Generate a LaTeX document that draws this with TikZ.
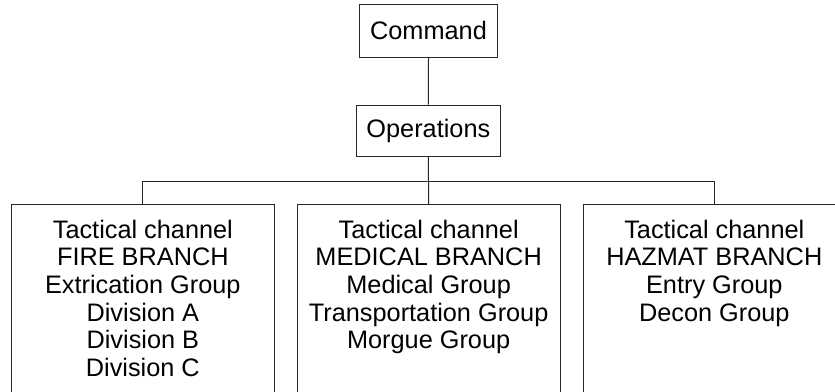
\documentclass[tikz,border=0pt]{standalone}
\usepackage{fontspec}
\setmainfont{Liberation Sans}
\begin{document}
\begin{tikzpicture}[x=1pt,y=-1pt,
  line/.style={draw=black!85, line width=1pt},
  topbox/.style={line, rectangle, inner sep=0pt, font=\fontsize{25.3}{28}\selectfont},
  branchbox/.style={line, rectangle, inner sep=0pt, anchor=north, minimum height=250pt},
  branchtext/.style={inner sep=0pt, anchor=base}
]
\useasboundingbox (0,0) rectangle (835,391);
\clip (0,0) rectangle (835,391);
\node[topbox, minimum width=138.4pt, minimum height=53.3pt] (cmd) at (428.5,30.65) {Command};
\node[topbox, minimum width=144.7pt, minimum height=51.7pt] (ops) at (428.35,130.85) {Operations};

\node[branchbox, minimum width=262.3pt] (fire) at (142.85,204.3) {};
\node[branchbox, minimum width=262.7pt] (med) at (428.65,204.3) {};
\node[branchbox, minimum width=262pt] (haz) at (714.3,204.3) {};

\node[branchtext] (firetxt) at (142.85,238.3) {\parbox[t]{255pt}{\centering\fontsize{25.3}{27.6}\selectfont
  Tactical channel\\FIRE BRANCH\\Extrication Group\\Division A\\Division B\\Division C}};
\node[branchtext] (medtxt) at (428.65,238.3) {\parbox[t]{255pt}{\centering\fontsize{25.3}{27.6}\selectfont
  Tactical channel\\MEDICAL BRANCH\\Medical Group\\Transportation Group\\Morgue Group}};
\node[branchtext] (haztxt) at (714.3,238.3) {\parbox[t]{255pt}{\centering\fontsize{25.3}{27.6}\selectfont
  Tactical channel\\HAZMAT BRANCH\\Entry Group\\Decon Group}};

\coordinate (bus) at (0,181.3);
\draw[line] (cmd.south) -- (ops.north);
\draw[line] (ops.south) -- (med.north);
\draw[line] (fire.north) -- (fire.north |- bus) -- (haz.north |- bus) -- (haz.north);
\end{tikzpicture}
\end{document}
